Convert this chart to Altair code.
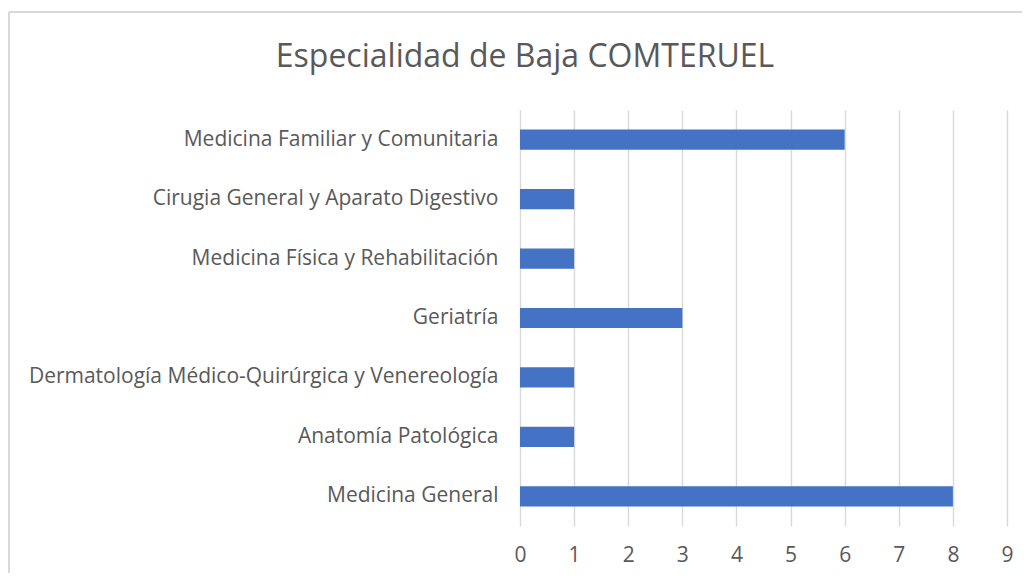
import altair as alt
import pandas as pd

categories = [
    "Medicina Familiar y Comunitaria",
    "Cirugia General y Aparato Digestivo",
    "Medicina Física y Rehabilitación",
    "Geriatría",
    "Dermatología Médico-Quirúrgica y Venereología",
    "Anatomía Patológica",
    "Medicina General",
]
values = [6, 1, 1, 3, 1, 1, 8]
x_ticks = [0, 1, 2, 3, 4, 5, 6, 7, 8, 9]
title_text = "Especialidad de Baja COMTERUEL"

df = pd.DataFrame({"cat": categories, "val": values})

FONT = "Open Sans"
GRAY = "#595959"
LINE = "#d9d9d9"

bars = alt.Chart(df).mark_bar(color="#4472C4").encode(
    x=alt.X("val:Q", scale=alt.Scale(domain=[0, 9], nice=False),
            axis=alt.Axis(values=x_ticks, title=None, grid=True, gridColor=LINE,
                          gridWidth=1.4, domain=False, ticks=False,
                          labelFontSize=21, labelColor=GRAY, labelFont=FONT,
                          labelPadding=18, labelFlush=False)),
    y=alt.Y("cat:N", sort=categories,
            scale=alt.Scale(paddingInner=0.66, paddingOuter=0.33),
            axis=alt.Axis(title=None, grid=False, domain=False, ticks=False,
                          labelFontSize=21, labelColor=GRAY, labelFont=FONT,
                          labelPadding=22, labelLimit=600)),
)

frame_top = alt.Chart(df).mark_rule(color=LINE, strokeWidth=1.5).encode(
    x=alt.value(-511), x2=alt.value(600), y=alt.value(-98))
frame_left = alt.Chart(df).mark_rule(color=LINE, strokeWidth=1.5).encode(
    x=alt.value(-511), y=alt.value(-98), y2=alt.value(600))

title = alt.Chart(pd.DataFrame({"t": [title_text]})).mark_text(
    font=FONT, fontSize=32, color=GRAY, align="center", baseline="alphabetic"
).encode(x=alt.value(5), y=alt.value(-43), text="t:N")

chart = alt.layer(frame_top, frame_left, bars, title).properties(
    width=487, height=416,
    autosize=alt.AutoSizeParams(type="none"),
    padding={"left": 512, "top": 102, "right": 15, "bottom": 47},
).configure_view(stroke=None)

chart.save("out.html", embed_options={"renderer": "svg", "actions": False})
